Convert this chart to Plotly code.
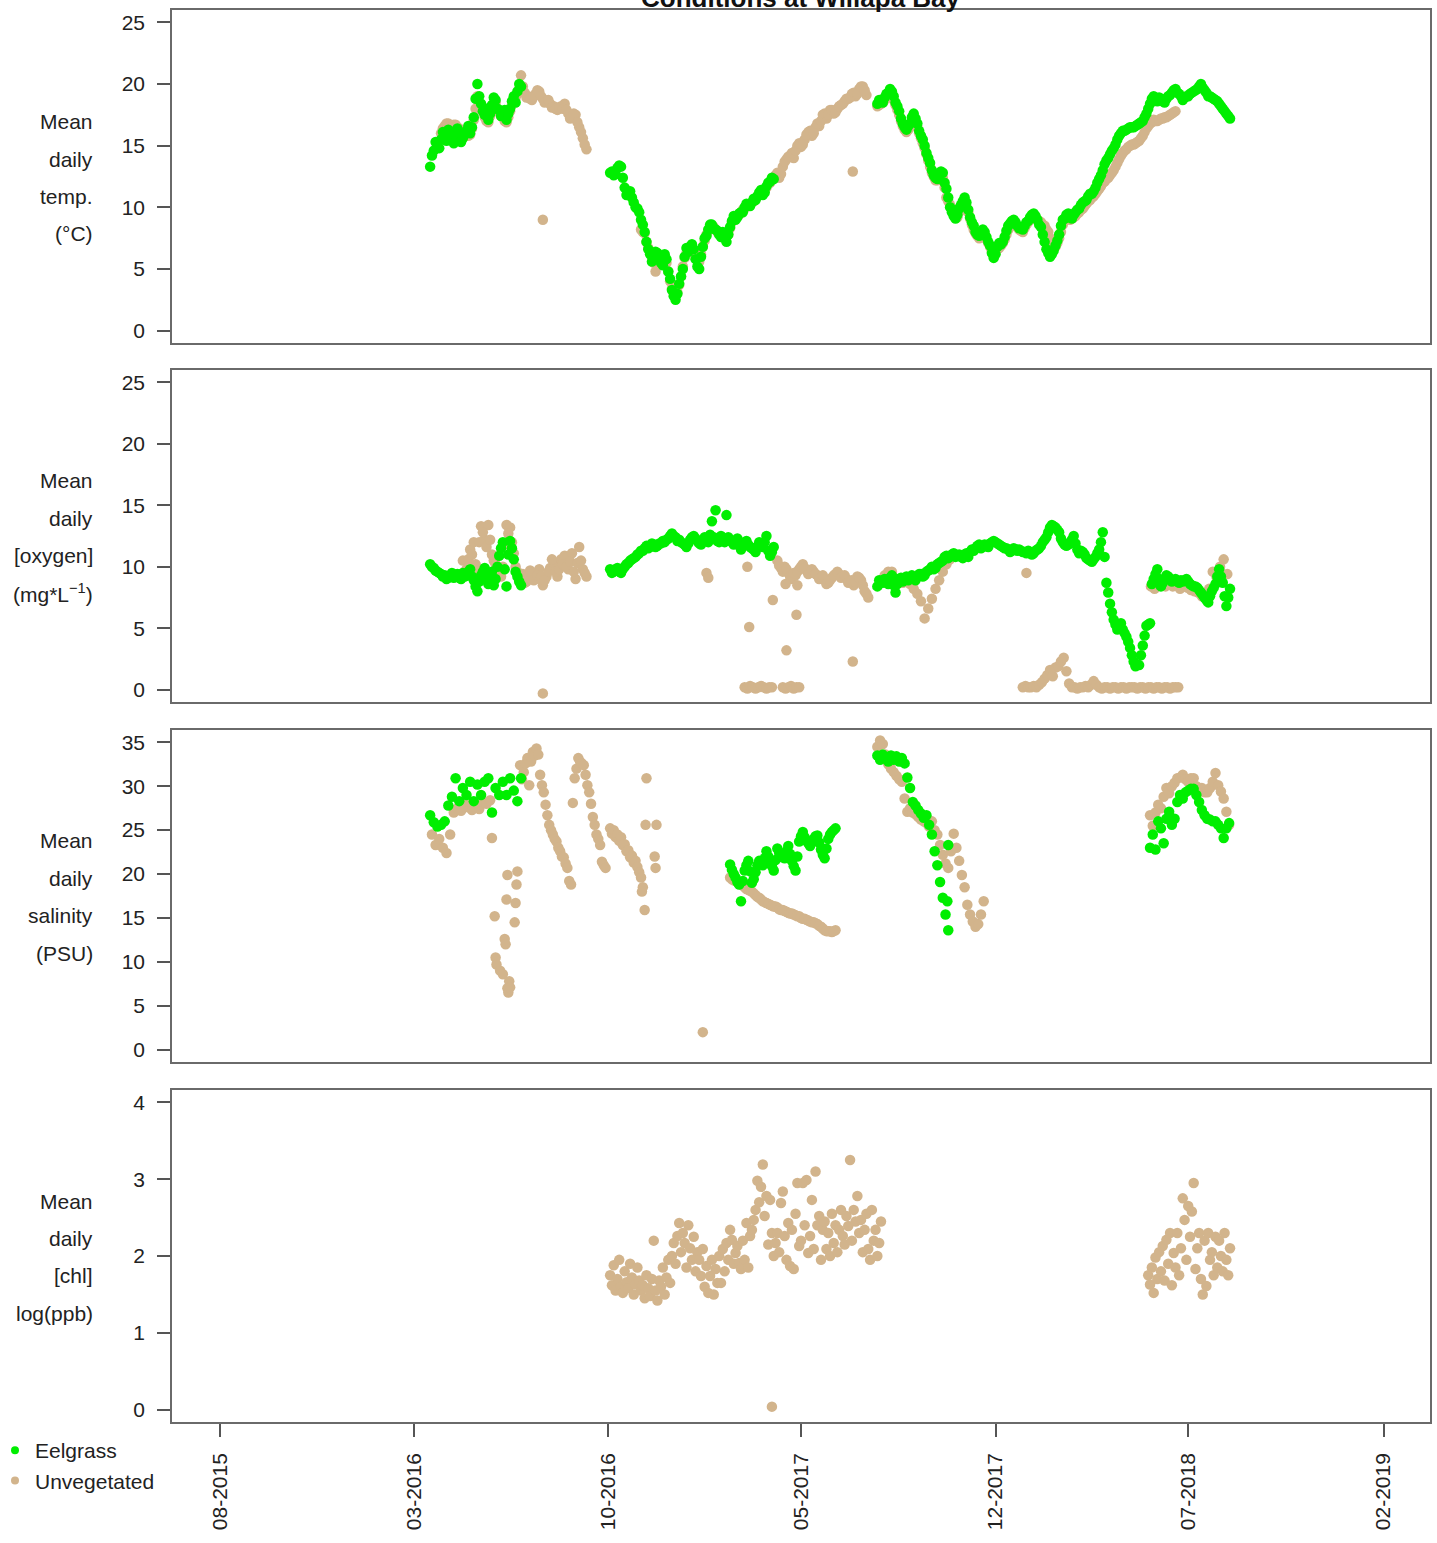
import pandas as pd
import plotly.graph_objects as go

GREEN = "#00EE00"
TAN = "#D2B48C"
FONT = "Liberation Sans, Arial, sans-serif"
MSIZE = 10.5

# ---------------- data ----------------
# Panel 1: mean daily temperature (deg C)
temp_eel_a_start, temp_eel_a_step = "2016-03-19", 4
temp_eel_a = [13.3, 14.6, 15.0, 15.5, 15.8, 16.3, 15.6, 15.9, 15.5, 15.6, 16.2, 16.0, 17.3, 20.0, 18.4, 17.5,
              17.1, 18.3, 18.7, 17.9, 17.5, 17.1, 18.0, 19.0, 19.4, 19.8]
temp_eel_a2_start, temp_eel_a2_step = "2016-03-21", 4
temp_eel_a2 = [14.2, 15.3, 14.8, 16.1, 15.4, 16.0, 15.2, 16.4, 15.3, 16.0, 16.6, 16.5, 18.8, 19.0, 17.8, 18.0,
               17.6, 18.9, 18.0, 17.4, 17.9, 17.6, 18.6, 18.5, 20.0]
temp_eel_b_start, temp_eel_b_step = "2016-10-03", 4
temp_eel_b = [12.8, 12.6, 13.2, 13.3, 11.6, 11.2, 10.8, 10.0, 9.6, 8.6, 7.2, 6.2, 5.8, 6.3, 5.5, 6.2, 4.8, 3.3,
              2.5, 3.8, 5.0, 6.7, 6.8, 6.6, 5.2, 6.0, 7.5, 8.2, 8.6, 8.2, 7.8, 8.0, 7.2, 8.4, 9.3, 9.2, 9.6,
              10.0, 10.2, 10.4, 10.6, 11.2, 11.0, 11.7, 12.1, 12.3]
temp_eel_b2_start, temp_eel_b2_step = "2016-10-05", 4
temp_eel_b2 = [12.9, 12.7, 13.4, 12.4, 11.0, 11.3, 10.4, 9.9, 9.0, 8.0, 6.6, 5.6, 6.4, 5.9, 5.3, 5.8, 4.2, 2.8,
               3.0, 4.4, 6.0, 6.4, 7.0, 5.8, 5.0, 6.8, 7.7, 8.6, 8.3, 8.1, 7.6, 7.5, 7.8, 8.9, 9.0, 9.5, 9.6,
               10.3, 10.1, 10.7, 10.9, 11.4, 11.2, 12.0, 12.4]
temp_eel_c_start, temp_eel_c_step = "2017-07-24", 4
temp_eel_c = [18.4, 18.6, 18.9, 19.3, 19.4, 18.5, 17.8, 16.8, 16.3, 16.8,
              17.6, 16.8, 15.8, 15.0, 14.0, 13.0, 12.4, 12.6, 12.8, 11.5,
              10.0, 9.3, 9.4, 10.2, 10.8, 9.8, 8.8, 8.0, 7.7, 8.2,
              7.6, 6.9, 5.9, 6.8, 7.0, 7.6, 8.5, 8.9, 8.8, 8.3,
              8.2, 8.8, 9.2, 9.5, 9.0, 8.4, 7.2, 6.3, 6.2, 6.9,
              7.8, 9.0, 9.4, 9.2, 9.4, 9.8, 10.2, 10.5, 10.9, 11.1,
              11.6, 12.3, 13.0, 13.8, 14.3, 14.8, 15.5, 16.0, 16.2, 16.4,
              16.5, 16.6, 16.8, 17.0, 17.6, 18.4, 19.0, 18.6, 18.8, 18.5,
              19.0, 19.3, 19.6, 19.2, 18.7, 19.0, 19.2, 19.4, 19.6, 20.0,
              19.5, 19.0, 18.9, 18.7, 18.4, 18.0, 17.6, 17.2]
temp_eel_c2_start, temp_eel_c2_step = "2017-07-26", 4
temp_eel_c2 = [18.7, 18.5, 19.2, 19.6, 19.0, 18.2, 17.2, 16.5, 16.6, 17.3,
               17.2, 16.2, 15.5, 14.4, 13.6, 12.6, 12.3, 12.9, 12.0, 10.8,
               9.6, 9.1, 9.9, 10.5, 10.4, 9.2, 8.5, 7.8, 7.9, 8.0,
               7.2, 6.3, 6.2, 7.1, 7.2, 8.1, 8.7, 9.0, 8.5, 8.4,
               8.5, 8.9, 9.4, 9.3, 8.6, 7.8, 6.6, 6.0, 6.5, 7.3,
               8.5, 9.1, 9.5, 9.1, 9.6, 9.9, 10.4, 10.6, 11.1, 11.3,
               12.0, 12.6, 13.5, 14.0, 14.6, 15.1, 15.8, 16.2, 16.3, 16.5,
               16.5, 16.7, 16.9, 17.3, 18.0, 18.8, 18.7, 18.9, 18.6, 18.8,
               19.1, 19.5, 19.3, 19.0, 18.9, 19.0, 19.3, 19.5, 19.8, 19.7,
               19.3, 19.0, 18.8, 18.6, 18.2, 17.8, 17.4]
temp_unv_a_start, temp_unv_a_step = "2016-03-31", 4
temp_unv_a = [16.0, 16.6, 16.8, 16.5, 16.7, 16.4, 16.2, 16.0, 15.9, 17.1, 19.0, 18.2, 17.3, 16.9, 18.1, 18.5,
              17.7, 17.3, 16.9, 17.8, 18.8, 19.2, 20.7, 19.3, 19.0, 18.7, 19.2, 19.4, 18.8, 18.6, 18.4, 18.2,
              17.9, 18.2, 18.4, 17.6, 17.3, 17.5, 16.5, 15.6, 14.7]
temp_unv_a2_start, temp_unv_a2_step = "2016-04-02", 4
temp_unv_a2 = [16.4, 16.8, 16.6, 16.7, 16.5, 16.2, 16.0, 15.8, 16.4, 18.0, 18.5, 17.7, 17.0, 17.4, 18.2, 18.0,
               17.4, 17.0, 17.3, 18.3, 18.9, 19.6, 19.8, 18.9, 18.8, 19.0, 19.5, 19.0, 18.5, 18.7, 18.1, 18.0,
               18.1, 18.0, 17.9, 17.2, 17.6, 16.9, 16.1, 15.1]
temp_unv_b_start, temp_unv_b_step = "2016-11-06", 4
temp_unv_b = [8.2, 7.9, 6.7, 6.0, 4.8, 5.9, 5.8, 5.5, 4.0, 2.9, 3.1, 4.4, 5.9, 6.7, 6.7, 5.9, 5.6, 6.8, 7.8, 8.4,
              8.4, 8.0, 7.9, 7.6, 7.8, 8.8, 9.2, 9.4, 9.8, 10.1, 10.3, 10.5, 10.9, 11.1, 11.3, 11.9, 12.2, 12.6,
              12.4, 13.3, 13.9, 14.2, 14.0, 15.0, 14.9, 15.5, 16.1, 15.8, 16.5, 16.6, 17.5, 17.2, 17.9, 17.6,
              18.0, 18.3, 18.6, 18.8, 19.2, 19.0, 19.6, 19.8, 19.1]
temp_unv_b2_start, temp_unv_b2_step = "2016-11-08", 4
temp_unv_b2 = [8.0, 7.2, 6.3, 5.5, 5.4, 5.9, 5.6, 4.8, 3.4, 2.9, 3.7, 5.2, 6.3, 6.8, 6.3, 5.7, 6.2, 7.3, 8.1, 8.5,
               8.2, 7.9, 7.8, 7.6, 8.3, 9.0, 9.3, 9.6, 9.9, 10.2, 10.4, 10.7, 11.0, 11.2, 11.6, 12.0, 12.4, 12.8,
               12.7, 13.7, 14.1, 14.4, 14.6, 15.2, 15.1, 15.9, 16.2, 16.0, 16.8, 17.0, 17.6, 17.5, 17.9, 17.7,
               18.2, 18.4, 18.8, 18.9, 19.3, 19.2, 19.8, 19.5]
temp_unv_c_start, temp_unv_c_step = "2017-07-24", 4
temp_unv_c = [18.2, 18.4, 18.7, 19.0, 19.1, 18.3, 17.5, 16.6, 16.1, 16.5, 17.3, 16.5, 15.6, 14.8, 13.8, 12.8,
              12.2, 12.3, 12.4, 10.8, 10.2, 9.6, 9.2, 10.0, 10.5, 9.6, 8.6, 7.9, 7.5, 8.0, 7.4, 6.8, 6.0, 6.6,
              6.9, 7.4, 8.2, 8.6, 8.6, 8.2, 8.0, 8.6, 9.0, 9.2, 9.0, 8.8, 8.5, 8.0, 7.0, 6.8, 7.5, 8.6, 9.2,
              9.0, 9.2, 9.5, 9.8, 10.1, 10.5, 10.8, 11.1, 11.5, 12.0, 12.3, 12.6, 13.0, 13.6, 14.2, 14.6, 14.9,
              15.1, 15.2, 15.4, 15.8, 16.4, 16.8, 17.1, 17.0, 17.2, 17.3, 17.4, 17.6, 17.8]
temp_unv_c2_start, temp_unv_c2_step = "2017-07-26", 4
temp_unv_c2 = [18.3, 18.5, 18.9, 19.0, 18.7, 17.9, 17.0, 16.3, 16.3, 16.9,
               16.9, 16.0, 15.2, 14.3, 13.3, 12.5, 12.2, 12.4, 11.6, 10.5,
               9.9, 9.4, 9.6, 10.2, 10.0, 9.1, 8.2, 7.7, 7.7, 7.7,
               7.1, 6.4, 6.3, 6.7, 7.1, 7.8, 8.4, 8.6, 8.4, 8.1,
               8.3, 8.8, 9.1, 9.1, 8.9, 8.6, 8.2, 7.5, 6.9, 7.1,
               8.0, 8.9, 9.1, 9.1, 9.3, 9.6, 9.9, 10.3, 10.6, 10.9,
               11.3, 11.7, 12.1, 12.4, 12.8, 13.3, 13.9, 14.4, 14.7, 15.0,
               15.1, 15.3, 15.6, 16.1, 16.6, 16.9, 17.0, 17.1, 17.2, 17.3,
               17.5, 17.7]
temp_unv_pts_dates = ["2016-07-21", "2017-06-27"]
temp_unv_pts = [9.0, 12.9]

# Panel 2: mean daily oxygen (mg/L)
oxy_eel_a_start, oxy_eel_a_step = "2016-03-19", 4
oxy_eel_a = [10.2, 9.9, 9.6, 9.4, 9.3, 9.1, 9.5, 9.3, 9.1, 9.5, 9.3, 9.8, 8.9, 8.0, 9.3, 9.9, 8.6, 9.6, 9.0,
             10.9, 12.0, 8.4, 12.1, 10.6, 9.2, 8.5]
oxy_eel_a2_start, oxy_eel_a2_step = "2016-03-21", 4
oxy_eel_a2 = [10.0, 9.7, 9.5, 9.2, 9.0, 9.3, 9.1, 9.4, 9.0, 9.2, 9.6, 9.2, 8.4, 8.8, 9.6, 9.0, 9.2, 8.5, 10.0,
              11.5, 9.8, 11.0, 11.5, 9.6, 8.8]
oxy_eel_b_start, oxy_eel_b_step = "2016-10-03", 4
oxy_eel_b = [9.8, 9.6, 9.9, 9.5, 10.0, 10.3, 10.6, 10.8, 11.1, 11.3, 11.7, 11.6, 11.8, 11.7, 11.9, 12.0, 12.3,
             12.7, 12.4, 12.2, 11.9, 11.6, 12.2, 12.5, 12.1, 11.8, 12.4, 12.0, 13.7, 14.6, 12.0, 12.3, 14.2,
             12.2, 11.8, 12.3, 11.4, 12.0, 11.8, 11.5, 11.2, 12.0, 11.6, 12.5, 10.9, 11.6]
oxy_eel_b2_start, oxy_eel_b2_step = "2016-10-05", 4
oxy_eel_b2 = [9.5, 9.8, 9.6, 9.8, 10.2, 10.5, 10.7, 11.0, 11.3, 11.5, 11.5, 11.9, 11.6, 11.9, 12.1, 12.2, 12.5,
              12.5, 12.1, 12.0, 11.8, 11.9, 12.4, 12.3, 11.9, 12.1, 12.2, 12.6, 12.4, 12.1, 12.5, 12.0, 12.4,
              12.0, 12.0, 11.8, 11.7, 12.1, 11.6, 11.4, 11.6, 11.8, 12.0, 11.3, 11.2]
oxy_eel_c_start, oxy_eel_c_step = "2017-07-24", 4
oxy_eel_c = [8.4, 8.8, 9.0, 8.6, 9.3, 7.9, 9.0, 8.8, 9.2, 9.0,
             9.0, 9.2, 9.4, 9.3, 9.7, 10.0, 9.9, 10.3, 10.5, 10.9,
             10.8, 11.1, 10.9, 10.8, 11.0, 10.8, 11.4, 11.5, 11.8, 11.6,
             11.7, 11.9, 12.1, 11.9, 11.7, 11.5, 11.4, 11.3, 11.4, 11.4,
             11.2, 11.1, 11.2, 11.1, 11.4, 11.7, 12.2, 12.8, 13.4, 13.2,
             12.8, 12.0, 11.7, 11.9, 12.5, 11.4, 11.3, 11.0, 10.6, 10.4,
             10.8, 11.4, 12.8, 8.7, 7.0, 5.7, 4.9, 5.4, 4.6, 3.9,
             2.8, 1.9, 2.0, 3.6, 5.2, 5.4, 9.0, 9.8, 8.4, 9.0,
             9.2, 8.8, 9.0, 8.7, 8.8, 9.0, 8.6, 8.4, 8.3, 7.9,
             7.5, 7.1, 8.0, 8.6, 9.8, 8.7, 6.8, 8.2]
oxy_eel_c2_start, oxy_eel_c2_step = "2017-07-26", 4
oxy_eel_c2 = [8.9, 8.7, 8.8, 9.1, 8.5, 8.6, 9.1, 9.0, 8.9, 9.3,
              8.9, 9.4, 9.2, 9.6, 9.8, 9.8, 10.2, 10.4, 10.8, 10.7,
              11.0, 10.8, 11.0, 10.7, 11.1, 11.2, 11.3, 11.7, 11.5, 11.8,
              11.6, 12.0, 12.0, 11.8, 11.6, 11.5, 11.2, 11.5, 11.3, 11.3,
              11.2, 11.3, 11.0, 11.3, 11.5, 12.0, 12.4, 13.2, 13.3, 13.0,
              12.3, 11.8, 11.8, 12.2, 11.9, 11.1, 11.2, 10.7, 10.5, 10.6,
              11.1, 12.0, 10.8, 7.9, 6.3, 5.3, 5.1, 4.9, 4.3, 3.4,
              2.3, 2.0, 2.8, 4.4, 5.3, 8.6, 9.4, 9.0, 8.7, 9.3,
              9.0, 8.9, 8.8, 8.9, 8.9, 8.8, 8.5, 8.4, 8.1, 7.7,
              7.3, 7.6, 8.3, 9.2, 9.2, 7.6, 7.5]
oxy_unv_a_start, oxy_unv_a_step = "2016-04-24", 4
oxy_unv_a = [10.5, 9.8, 11.4, 12.0, 9.6, 13.3, 12.2, 13.4, 11.0, 10.2, 9.5, 10.0, 13.4, 13.2, 11.1, 9.6, 9.2,
             8.7, 9.0, 9.4, 9.0, 9.8, 8.5, 9.2, 9.9, 10.2, 9.2, 10.6, 10.9, 9.8, 11.1, 9.0, 11.6, 9.8, 9.2]
oxy_unv_a2_start, oxy_unv_a2_step = "2016-04-26", 4
oxy_unv_a2 = [9.6, 10.6, 11.0, 10.2, 12.0, 12.8, 11.6, 12.2, 10.5, 9.8, 9.2, 11.8, 12.7, 12.0, 10.0, 8.9, 9.4,
              8.8, 9.7, 8.9, 9.3, 9.2, 8.9, 9.6, 10.6, 9.6, 9.8, 10.2, 10.0, 10.4, 9.6, 10.3, 10.5, 9.5]
oxy_unv_b_start, oxy_unv_b_step = "2017-04-05", 4
oxy_unv_b = [10.5, 9.9, 10.0, 9.5, 9.0, 9.3, 9.8, 10.2, 9.7, 9.5, 9.6, 9.3, 9.2, 8.9, 8.7, 9.1, 9.4, 9.4, 9.2,
             9.0, 8.8, 8.5, 9.2, 8.9, 8.0, 7.5]
oxy_unv_b2_start, oxy_unv_b2_step = "2017-04-07", 4
oxy_unv_b2 = [10.1, 9.6, 9.8, 9.2, 9.5, 9.6, 10.0, 9.9, 9.4, 9.8, 9.4, 9.0, 9.3, 8.6, 8.9, 9.3, 9.6, 9.1, 9.3,
              8.7, 8.9, 8.8, 9.1, 8.5, 7.8]
oxy_unv_z1_start, oxy_unv_z1_step = "2017-02-28", 3
oxy_unv_z1 = [0.2, 0.1, 0.3, 0.2, 0.1, 0.2, 0.3, 0.2, 0.1, 0.2, 0.2]
oxy_unv_z2_start, oxy_unv_z2_step = "2017-04-11", 3
oxy_unv_z2 = [0.2, 0.1, 0.2, 0.3, 0.1, 0.2, 0.2]
oxy_unv_c_start, oxy_unv_c_step = "2017-07-28", 4
oxy_unv_c = [8.9, 9.3, 9.6, 9.6, 9.0, 8.8, 8.7, 8.9, 8.6, 8.2, 7.8, 7.2, 5.8, 6.6, 7.4, 8.2, 8.9, 9.6, 10.2, 10.6]
oxy_unv_z3_start, oxy_unv_z3_step = "2017-12-31", 3
oxy_unv_z3 = [0.2, 0.3, 0.2, 0.2, 0.3, 0.2, 0.4, 0.6, 0.9, 1.2, 1.6, 1.1, 1.8, 1.9, 2.3, 2.6, 1.5, 0.5, 0.2,
              0.2, 0.1, 0.2, 0.2, 0.3, 0.2, 0.4, 0.7, 0.4, 0.2, 0.1, 0.2, 0.2, 0.1, 0.2, 0.2, 0.1, 0.2, 0.2,
              0.1, 0.2, 0.2, 0.2, 0.1, 0.2, 0.2, 0.1, 0.2, 0.2, 0.1, 0.2, 0.2, 0.1, 0.2, 0.2, 0.1, 0.2, 0.2, 0.2]
oxy_unv_d_start, oxy_unv_d_step = "2018-05-21", 4
oxy_unv_d = [8.4, 8.2, 8.6, 8.8, 8.4, 8.6, 8.4, 8.5, 8.2, 8.6, 8.3, 8.1, 8.0, 7.9, 7.6, 7.7, 8.2, 9.6, 9.2,
             10.0, 10.6, 9.4]
oxy_unv_pts_dates = ["2016-07-21", "2017-01-17", "2017-01-19", "2017-03-03", "2017-03-05", "2017-03-31",
                     "2017-04-14", "2017-04-15", "2017-04-26", "2017-04-27", "2017-06-27", "2018-01-04"]
oxy_unv_pts = [-0.3, 9.5, 9.1, 10.0, 5.1, 7.3, 8.6, 3.2, 6.1, 8.5, 2.3, 9.5]

# Panel 3: mean daily salinity (PSU)
sal_eel_a_start, sal_eel_a_step = "2016-03-19", 4
sal_eel_a = [26.7, 25.9, 25.4, 25.6, 26.0, 27.8, 28.8, 30.9, 28.3, 29.8, 29.0, 30.5, 28.3, 30.2, 29.0, 30.5,
             30.9, 27.0, 29.8, 29.0, 30.5, 29.0, 30.9, 29.5, 28.3, 30.9]
sal_eel_b_start, sal_eel_b_step = "2017-02-12", 4
sal_eel_b = [21.1, 20.0, 19.1, 16.9, 20.4, 21.5, 19.0, 20.2, 21.5, 21.0, 22.6, 21.5, 20.4, 22.9, 22.0, 21.8,
             23.2, 21.5, 20.4, 23.7, 24.8, 23.8, 23.2, 24.0, 24.4, 22.8, 21.8, 24.0, 24.8, 25.2]
sal_eel_b2_start, sal_eel_b2_step = "2017-02-14", 4
sal_eel_b2 = [20.5, 19.6, 18.8, 19.2, 21.0, 20.3, 19.4, 21.0, 21.2, 21.8, 22.0, 20.9, 21.6, 22.4, 21.9, 22.6,
              22.3, 20.9, 22.0, 24.3, 24.2, 23.5, 23.6, 24.3, 23.6, 22.2, 22.9, 24.5, 25.0]
sal_eel_c_start, sal_eel_c_step = "2017-07-24", 3
sal_eel_c = [33.5, 33.0, 33.6, 33.2, 32.8, 33.5, 33.0, 33.4, 32.8, 33.2, 32.6, 31.0, 29.8, 28.2, 27.8, 27.3,
             26.9, 26.4, 26.7, 25.6, 24.5, 22.6, 21.0, 19.1, 17.3, 15.4, 13.6]
sal_eel_d_start, sal_eel_d_step = "2018-05-20", 3
sal_eel_d = [23.0, 24.5, 22.8, 26.0, 25.2, 23.5, 26.3, 27.1, 25.6, 26.3, 28.2, 29.0, 28.6, 29.3, 29.5, 29.7,
             29.7, 29.0, 28.2, 27.3, 26.7, 26.3, 26.2, 26.0, 26.0, 25.6, 25.2, 24.1, 25.2, 25.8]
sal_eel_pts_dates = ["2017-10-09", "2017-10-10"]
sal_eel_pts = [16.9, 23.3]
sal_unv_a_start, sal_unv_a_step = "2016-03-21", 4
sal_unv_a = [24.5, 23.3, 24.0, 23.0, 22.4, 24.5, 27.0, 27.5, 27.2, 28.0, 27.6, 27.3, 28.0, 27.4, 28.2, 28.0,
             28.4]
sal_unv_b_start, sal_unv_b_step = "2016-06-26", 2
sal_unv_b = [32.4, 30.8, 31.6, 32.6, 33.2, 30.1, 32.8, 33.9, 33.5, 34.3, 33.6, 31.3, 30.1, 29.3, 27.9, 26.7,
             25.6, 25.0, 24.5, 24.0, 23.7, 23.0, 22.6, 22.0, 21.9, 21.2, 20.7, 19.2, 18.8, 28.1, 30.9, 32.0,
             33.2, 32.8, 32.6, 32.4, 31.3, 30.1, 29.3, 28.0, 26.5, 25.6, 24.5, 24.0, 23.3, 21.4, 21.0, 20.7]
sal_unv_c_start, sal_unv_c_step = "2016-10-03", 2
sal_unv_c = [25.2, 24.6, 25.0, 24.2, 24.5, 23.8, 24.2, 23.3, 23.4, 22.6, 22.7, 21.9, 22.1, 21.3, 21.5, 20.8,
             20.2, 19.6, 18.5, 15.9]
sal_unv_d_start, sal_unv_d_step = "2017-02-12", 4
sal_unv_d = [19.6, 19.3, 19.1, 18.8, 18.5, 18.2, 18.0, 17.6, 17.3, 16.9, 16.7, 16.5, 16.3, 16.2, 15.9, 15.8,
             15.6, 15.5, 15.3, 15.2, 14.9, 14.8, 14.6, 14.5, 14.3, 14.0, 13.6, 13.5, 13.4, 13.6]
sal_unv_d2_start, sal_unv_d2_step = "2017-02-14", 4
sal_unv_d2 = [19.4, 19.2, 18.9, 18.7, 18.3, 18.1, 17.8, 17.4, 17.1, 16.8, 16.6, 16.4, 16.3, 16.0, 15.9, 15.7,
              15.5, 15.4, 15.2, 15.0, 14.9, 14.7, 14.5, 14.4, 14.1, 13.8, 13.5, 13.5, 13.5]
sal_unv_e_start, sal_unv_e_step = "2017-07-24", 3
sal_unv_e = [34.5, 35.2, 34.8, 33.6, 32.5, 32.0, 31.6, 31.2, 30.8, 30.5, 28.6, 27.1, 27.5, 27.0, 26.8, 26.5,
             26.2, 26.0, 25.8, 25.4, 26.0, 25.0, 24.5, 23.3, 22.2, 21.2, 20.7, 22.6, 24.6, 23.0, 21.5, 19.9,
             18.5, 16.5, 15.4, 14.6, 14.0, 14.3, 15.4, 16.9]
sal_unv_f_start, sal_unv_f_step = "2018-05-20", 3
sal_unv_f = [26.7, 25.5, 27.0, 27.9, 27.5, 28.8, 29.8, 29.2, 30.0, 30.4, 30.9, 31.0, 31.3, 30.8, 30.5, 30.9,
             30.9, 30.0, 29.6, 29.8, 29.3, 29.3, 29.8, 30.5, 31.5, 30.1, 29.4, 28.6, 27.1, 25.6]
sal_unv_pts_dates = ["2016-05-26", "2016-05-29", "2016-05-30", "2016-05-31", "2016-06-04", "2016-06-07",
                     "2016-06-09", "2016-06-10", "2016-06-11", "2016-06-12", "2016-06-12", "2016-06-13",
                     "2016-06-14", "2016-06-15", "2016-06-20", "2016-06-21", "2016-06-22", "2016-06-23",
                     "2016-11-07", "2016-11-11", "2016-11-12", "2016-11-21", "2016-11-22", "2016-11-23",
                     "2017-01-13"]
sal_unv_pts = [24.1, 15.2, 10.5, 9.7, 9.0, 8.6, 12.6, 12.0, 17.1, 19.9, 7.0, 6.5, 7.8, 7.1, 14.5, 16.7,
               18.8, 20.3, 18.0, 25.6, 30.9, 22.0, 20.7, 25.6, 2.0]

# Panel 4: mean daily chlorophyll, log(ppb) (unvegetated only)
chl_unv_a_start, chl_unv_a_step = "2016-10-03", 2
chl_unv_a = [1.75, 1.62, 1.88, 1.55, 1.70, 1.95, 1.60, 1.52, 1.80, 1.66, 1.58, 1.90, 1.72, 1.50, 1.63, 1.85,
             1.68, 1.55, 1.62, 1.45, 1.75, 1.58, 1.48, 1.70, 2.20, 1.55, 1.42, 1.68, 1.60, 1.85, 1.50, 1.72,
             1.95, 1.65, 2.00, 2.17, 1.90, 2.26, 2.43, 2.05, 2.30, 2.17, 1.85, 2.40, 2.10, 1.95, 2.25, 1.80,
             2.05, 1.95, 1.74, 2.09, 1.60, 1.87, 1.52, 1.74, 1.95, 1.50, 1.83, 1.65, 2.00, 1.65, 2.09, 1.80,
             2.17, 1.95, 2.34, 2.21, 1.90, 2.04, 2.13, 1.91, 1.83, 2.20, 1.95, 2.43, 1.85, 2.26, 2.34, 2.47,
             2.60, 2.98, 2.70, 2.90, 3.19, 2.52, 2.78, 2.15, 2.73, 2.30, 2.00, 2.17, 2.30, 2.05, 2.69, 2.84,
             2.26, 1.95, 2.43, 1.87, 2.34, 1.83, 2.55, 2.95, 2.13, 2.20, 2.95, 2.40, 2.99, 2.04, 2.26, 2.73,
             2.09, 3.10, 2.40, 2.52, 1.95, 2.34, 2.45, 2.09, 2.30, 2.00, 2.55, 2.17, 2.40, 2.05, 2.34, 2.60,
             2.26, 2.15, 2.52, 2.39, 3.25, 2.20, 2.60, 2.45, 2.78, 2.30, 2.47, 2.05, 2.34, 2.55, 2.09, 1.95,
             2.60, 2.20, 2.34, 2.00, 2.17, 2.45]
chl_unv_b_start, chl_unv_b_step = "2018-05-18", 2
chl_unv_b = [1.75, 1.63, 1.85, 1.52, 1.98, 1.70, 2.05, 1.80, 2.13, 1.68, 2.21, 1.90, 2.30, 1.62, 2.04, 1.85,
             2.30, 1.75, 2.10, 2.75, 2.47, 1.95, 2.65, 2.25, 2.58, 2.95, 1.83, 2.10, 2.30, 1.70, 1.50, 2.20,
             1.61, 2.30, 1.95, 2.05, 1.75, 2.25, 1.85, 2.20, 2.00, 1.80, 2.30, 1.95, 1.75, 2.10]
chl_unv_pts_dates = ["2017-03-30"]
chl_unv_pts = [0.04]

# Axis ticks / labels
x_tick_dates = ["2015-08-01", "2016-03-01", "2016-10-01", "2017-05-01", "2017-12-01", "2018-07-01", "2019-02-01"]
x_tick_text = ["08-2015", "03-2016", "10-2016", "05-2017", "12-2017", "07-2018", "02-2019"]
x_range = ["2015-06-09", "2019-03-24"]
y_ticks = [[0, 5, 10, 15, 20, 25], [0, 5, 10, 15, 20, 25], [0, 5, 10, 15, 20, 25, 30, 35], [0, 1, 2, 3, 4]]
y_ranges = [[-1, 26], [-1, 26], [-1.4, 36.4], [-0.16, 4.16]]
y_titles = [["Mean", "daily", "temp.", "(°C)"],
            ["Mean", "daily", "[oxygen]", "(mg*L<sup>−1</sup>)"],
            ["Mean", "daily", "salinity", "(PSU)"],
            ["Mean", "daily", "[chl]", "log(ppb)"]]
title_text = "Conditions at Willapa Bay"
legend_names = ["Eelgrass", "Unvegetated"]
legend_colors = [GREEN, TAN]


# ---------------- helpers ----------------
def seg(start, step, vals):
    return list(pd.date_range(start, periods=len(vals), freq=f"{step}D")), list(vals)


def combine(*parts):
    xs, ys = [], []
    for x, y in parts:
        xs += list(pd.to_datetime(x))
        ys += list(y)
    return xs, ys


panels_data = [
    (combine(seg(temp_unv_a_start, temp_unv_a_step, temp_unv_a),
             seg(temp_unv_a2_start, temp_unv_a2_step, temp_unv_a2),
             seg(temp_unv_b_start, temp_unv_b_step, temp_unv_b),
             seg(temp_unv_b2_start, temp_unv_b2_step, temp_unv_b2),
             seg(temp_unv_c_start, temp_unv_c_step, temp_unv_c),
             seg(temp_unv_c2_start, temp_unv_c2_step, temp_unv_c2),
             (temp_unv_pts_dates, temp_unv_pts)),
     combine(seg(temp_eel_a_start, temp_eel_a_step, temp_eel_a),
             seg(temp_eel_a2_start, temp_eel_a2_step, temp_eel_a2),
             seg(temp_eel_b_start, temp_eel_b_step, temp_eel_b),
             seg(temp_eel_b2_start, temp_eel_b2_step, temp_eel_b2),
             seg(temp_eel_c_start, temp_eel_c_step, temp_eel_c),
             seg(temp_eel_c2_start, temp_eel_c2_step, temp_eel_c2))),
    (combine(seg(oxy_unv_a_start, oxy_unv_a_step, oxy_unv_a),
             seg(oxy_unv_a2_start, oxy_unv_a2_step, oxy_unv_a2),
             seg(oxy_unv_b_start, oxy_unv_b_step, oxy_unv_b),
             seg(oxy_unv_b2_start, oxy_unv_b2_step, oxy_unv_b2),
             seg(oxy_unv_z1_start, oxy_unv_z1_step, oxy_unv_z1),
             seg(oxy_unv_z2_start, oxy_unv_z2_step, oxy_unv_z2),
             seg(oxy_unv_c_start, oxy_unv_c_step, oxy_unv_c),
             seg(oxy_unv_z3_start, oxy_unv_z3_step, oxy_unv_z3),
             seg(oxy_unv_d_start, oxy_unv_d_step, oxy_unv_d),
             (oxy_unv_pts_dates, oxy_unv_pts)),
     combine(seg(oxy_eel_a_start, oxy_eel_a_step, oxy_eel_a),
             seg(oxy_eel_a2_start, oxy_eel_a2_step, oxy_eel_a2),
             seg(oxy_eel_b_start, oxy_eel_b_step, oxy_eel_b),
             seg(oxy_eel_b2_start, oxy_eel_b2_step, oxy_eel_b2),
             seg(oxy_eel_c_start, oxy_eel_c_step, oxy_eel_c),
             seg(oxy_eel_c2_start, oxy_eel_c2_step, oxy_eel_c2))),
    (combine(seg(sal_unv_a_start, sal_unv_a_step, sal_unv_a),
             seg(sal_unv_b_start, sal_unv_b_step, sal_unv_b),
             seg(sal_unv_c_start, sal_unv_c_step, sal_unv_c),
             seg(sal_unv_d_start, sal_unv_d_step, sal_unv_d),
             seg(sal_unv_d2_start, sal_unv_d2_step, sal_unv_d2),
             seg(sal_unv_e_start, sal_unv_e_step, sal_unv_e),
             seg(sal_unv_f_start, sal_unv_f_step, sal_unv_f),
             (sal_unv_pts_dates, sal_unv_pts)),
     combine(seg(sal_eel_a_start, sal_eel_a_step, sal_eel_a),
             seg(sal_eel_b_start, sal_eel_b_step, sal_eel_b),
             seg(sal_eel_b2_start, sal_eel_b2_step, sal_eel_b2),
             seg(sal_eel_c_start, sal_eel_c_step, sal_eel_c),
             seg(sal_eel_d_start, sal_eel_d_step, sal_eel_d),
             (sal_eel_pts_dates, sal_eel_pts))),
    (combine(seg(chl_unv_a_start, chl_unv_a_step, chl_unv_a),
             seg(chl_unv_b_start, chl_unv_b_step, chl_unv_b),
             (chl_unv_pts_dates, chl_unv_pts)),
     None),
]

# ---------------- layout geometry ----------------
W, H = 1437, 1543
ML, MR, MT, MB = 172, 7, 10, 121
PW, PH = W - ML - MR, H - MT - MB


def py(pix):
    return (H - MB - pix) / PH


def pxp(pix):
    return (pix - ML) / PW


panel_pix = [(10, 343), (370, 702), (730, 1062), (1090, 1422)]

fig = go.Figure()
for i, (unv, eel) in enumerate(panels_data):
    k = "" if i == 0 else str(i + 1)
    fig.add_trace(go.Scatter(x=unv[0], y=unv[1], mode="markers", name=legend_names[1],
                             marker=dict(color=TAN, size=MSIZE, line=dict(width=0)),
                             xaxis="x" + k, yaxis="y" + k, showlegend=False, cliponaxis=True))
    if eel is not None:
        fig.add_trace(go.Scatter(x=eel[0], y=eel[1], mode="markers", name=legend_names[0],
                                 marker=dict(color=GREEN, size=MSIZE, line=dict(width=0)),
                                 xaxis="x" + k, yaxis="y" + k, showlegend=False, cliponaxis=True))

# legend-only entries (smaller symbols, as in the reference key)
for name, col in zip(legend_names, legend_colors):
    fig.add_trace(go.Scatter(x=[None], y=[None], mode="markers", name=name,
                             marker=dict(color=col, size=8), showlegend=True))

axis_line = dict(showline=True, linecolor="#6a6a6a", linewidth=1.5, mirror=True,
                 showgrid=False, zeroline=False)
tickfont = dict(family=FONT, size=21, color="#222222")

layout = dict(
    width=W, height=H,
    margin=dict(l=ML, r=MR, t=MT, b=MB, autoexpand=False),
    paper_bgcolor="white", plot_bgcolor="white",
    font=dict(family=FONT, size=21, color="#222222"),
    showlegend=True,
    legend=dict(x=pxp(-5), y=py(1430), xanchor="left", yanchor="top",
                font=dict(family=FONT, size=21, color="#222222"),
                bgcolor="rgba(0,0,0,0)", borderwidth=0, tracegroupgap=0),
)

for i, (top, bot) in enumerate(panel_pix):
    k = "" if i == 0 else str(i + 1)
    xa = dict(axis_line, type="date", range=x_range, domain=[0, 1], anchor="y" + k)
    if i < 3:
        xa.update(showticklabels=False, ticks="")
    else:
        xa.update(tickvals=x_tick_dates, ticktext=x_tick_text, tickangle=-90, ticks="outside",
                  ticklen=13, tickcolor="#555555", tickwidth=1.5, tickfont=tickfont,
                  ticklabelstandoff=8)
    ya = dict(axis_line, range=y_ranges[i], domain=[py(bot), py(top)], anchor="x" + k,
              tickvals=y_ticks[i], ticks="outside", ticklen=13, tickcolor="#555555", tickwidth=1.5,
              tickfont=tickfont, ticklabelstandoff=8)
    layout["xaxis" + k] = xa
    layout["yaxis" + k] = ya

annotations = []
offsets = [-55, -17.5, 19.5, 57]
for i, (top, bot) in enumerate(panel_pix):
    c = (top + bot) / 2
    for line, off in zip(y_titles[i], offsets):
        annotations.append(dict(text=line, xref="paper", yref="paper", x=pxp(95), y=py(c + off),
                                xanchor="right", yanchor="middle", showarrow=False,
                                font=dict(family=FONT, size=21, color="#222222")))
annotations.append(dict(text="<b>" + title_text + "</b>", xref="paper", yref="paper", x=0.5, y=py(-2),
                        xanchor="center", yanchor="middle", showarrow=False,
                        font=dict(family=FONT, size=26, color="#111111")))
layout["annotations"] = annotations

fig.update_layout(**layout)
fig.write_html("out.html")
